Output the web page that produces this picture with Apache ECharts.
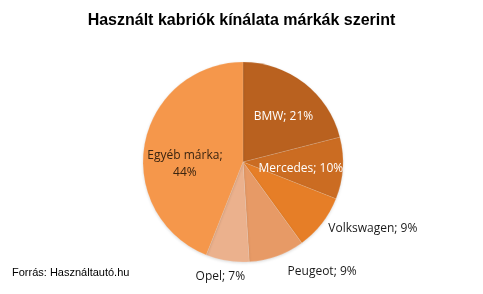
<!DOCTYPE html>
<html>
<head>
<meta charset="utf-8">
<script src="https://cdn.jsdelivr.net/npm/echarts@6/dist/echarts.min.js"></script>
<style>html,body{margin:0;padding:0;background:#fff}#c{width:483px;height:294px}</style>
</head>
<body>
<div id="c"></div>
<script>
var categories = ["BMW", "Mercedes", "Volkswagen", "Peugeot", "Opel", "Egyéb márka"];
var values = [21, 10, 9, 9, 7, 44];
var titleText = "Használt kabriók kínálata márkák szerint";
var sourceText = "Forrás: Használtautó.hu";

var colors = ["#B9611F", "#CB6C22", "#E67E27", "#E79A66", "#EBB18D", "#F5974B"];
var labelCfg = [
  {position: "inside", color: "#fff", offset: [8, -4]},
  {position: "inside", color: "#fff", offset: [5, 3]},
  {position: "outside", color: "#1a1a1a", offset: [0, 0]},
  {position: "outside", color: "#1a1a1a", offset: [8, 8]},
  {position: "outside", color: "#1a1a1a", offset: [19, 8]},
  {position: "inside", color: "#3a2410", offset: [-6, 12]}
];
var data = categories.map(function (c, i) {
  return {
    name: c, value: values[i],
    itemStyle: {color: colors[i]},
    label: Object.assign({show: true, fontFamily: "Open Sans", fontSize: 12, overflow: "none"}, labelCfg[i]),
    labelLine: {show: false}
  };
});
data[5].label.formatter = "{b};\n{d}%";
data[5].label.lineHeight = 17;

var chart = echarts.init(document.getElementById("c"));
chart.setOption({
  animation: false,
  title: [
    {text: titleText, left: "center", top: 8,
     textStyle: {fontFamily: "Liberation Sans", fontWeight: "bold", fontSize: 16, color: "#000"}},
    {text: sourceText, left: 7, top: 262,
     textStyle: {fontFamily: "Liberation Sans", fontWeight: "normal", fontSize: 11, color: "#000"}}
  ],
  series: [{
    type: "pie",
    center: [243, 162],
    radius: [0, 100],
    startAngle: 90,
    clockwise: true,
    data: data,
    label: {formatter: "{b}; {d}%", distanceToLabelLine: 0, overflow: "none"},
    labelLine: {show: false, length: 8, length2: 0},
    itemStyle: {borderColor: "rgba(255,255,255,0.25)", borderWidth: 0.5,
                shadowBlur: 3, shadowColor: "rgba(0,0,0,0.15)", shadowOffsetY: 1}
  }]
});
</script>
</body>
</html>
